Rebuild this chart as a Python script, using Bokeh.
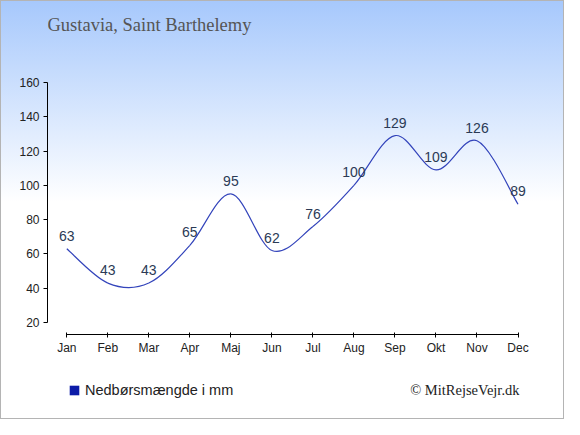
import numpy as np
from bokeh.plotting import figure
from bokeh.models import Range1d, FixedTicker, Label, Legend, LegendItem, Column
from bokeh.core.properties import value
from bokeh.embed import file_html
from bokeh.resources import INLINE

months = ["Jan", "Feb", "Mar", "Apr", "Maj", "Jun", "Jul", "Aug", "Sep", "Okt", "Nov", "Dec"]
precip = [63, 43, 43, 65, 95, 62, 76, 100, 129, 109, 126, 89]
y_ticks = [20, 40, 60, 80, 100, 120, 140, 160]
title_text = "Gustavia, Saint Barthelemy"
series_name = "Nedbørsmængde i mm"
credit = "© MitRejseVejr.dk"

xs = list(range(len(months)))
n = len(xs)

W = 564
H_TOP, H_MAIN, H_BOT = 60, 300, 59
STRIP_L, STRIP_R = 47, 27


def plain(fig):
    fig.background_fill_color = None
    fig.border_fill_color = None
    fig.outline_line_color = None
    fig.grid.visible = False
    return fig


def strip(h):
    return plain(figure(width=W, height=h, output_backend="svg", toolbar_location=None,
                        x_range=Range1d(STRIP_L, W - STRIP_R), y_range=Range1d(h, 0),
                        x_axis_location=None, y_axis_location=None,
                        min_border_left=STRIP_L, min_border_right=STRIP_R,
                        min_border_top=0, min_border_bottom=0))


# ---- title strip ----
t = strip(H_TOP)
t.add_layout(Label(x=47, y=24, text=title_text, text_font="Liberation Serif",
                   text_font_size="18.5px", text_color="#555555", text_baseline="middle",
                   text_align="left"))

# ---- main chart ----
p = plain(figure(width=W, height=H_MAIN, output_backend="svg", toolbar_location=None,
                 x_range=Range1d(-0.4705, 11.475), y_range=Range1d(13.0, 160),
                 min_border_left=47, min_border_right=27, min_border_top=22, min_border_bottom=26))

p.yaxis.ticker = FixedTicker(ticks=y_ticks)
p.yaxis.bounds = (20, 160)
p.yaxis.major_tick_in = 0
p.yaxis.major_tick_out = 4
p.yaxis.minor_tick_in = 0
p.yaxis.minor_tick_out = 0
p.yaxis.major_label_standoff = 4
p.yaxis.axis_line_color = "#000000"
p.yaxis.major_tick_line_color = "#000000"
p.yaxis.major_label_text_font = "Liberation Sans"
p.yaxis.major_label_text_font_size = "12px"
p.yaxis.major_label_text_color = "#222222"

p.xaxis.ticker = FixedTicker(ticks=xs)
p.xaxis.major_label_overrides = {i: m for i, m in enumerate(months)}
p.xaxis.bounds = (0, n - 1)
p.xaxis.major_tick_in = 2
p.xaxis.major_tick_out = 3
p.xaxis.minor_tick_in = 0
p.xaxis.minor_tick_out = 0
p.xaxis.major_label_standoff = 3
p.xaxis.axis_line_color = "#000000"
p.xaxis.major_tick_line_color = "#000000"
p.xaxis.major_label_text_font = "Liberation Sans"
p.xaxis.major_label_text_font_size = "12px"
p.xaxis.major_label_text_color = "#222222"

# smooth line (Catmull-Rom as cubic beziers through the data points)
bx0, by0, bx1, by1, cx0, cy0, cx1, cy1 = [], [], [], [], [], [], [], []
for i in range(n - 1):
    a = max(i - 1, 0)
    d = min(i + 2, n - 1)
    bx0.append(xs[i]); by0.append(precip[i])
    bx1.append(xs[i + 1]); by1.append(precip[i + 1])
    cx0.append(xs[i] + (xs[i + 1] - xs[a]) / 6)
    cy0.append(precip[i] + (precip[i + 1] - precip[a]) / 6)
    cx1.append(xs[i + 1] - (xs[d] - xs[i]) / 6)
    cy1.append(precip[i + 1] - (precip[d] - precip[i]) / 6)
p.bezier(x0=bx0, y0=by0, x1=bx1, y1=by1, cx0=cx0, cy0=cy0, cx1=cx1, cy1=cy1,
         line_color="#3344bb", line_width=1.2)

p.text(x=xs, y=precip, text=[str(v) for v in precip], text_align="center",
       text_baseline="middle", y_offset=-13, text_font=value("Liberation Sans"),
       text_font_size="14px", text_color="#2b3a55")

# ---- legend / credit strip ----
b = strip(H_BOT)
b.add_layout(Label(x=519, y=29, text=credit, text_font="Liberation Serif",
                   text_font_size="14.5px", text_color="#222222", text_baseline="middle",
                   text_align="right"))
# swatch renderer for the legend only (no visible mark)
r_leg = b.quad(left=np.array([np.nan]), right=np.array([np.nan]),
               top=np.array([np.nan]), bottom=np.array([np.nan]),
               fill_color="#0c1ca8", line_color=None)
legend = Legend(items=[LegendItem(label=series_name, renderers=[r_leg])],
                location=(68 - STRIP_L, 21), glyph_width=12, glyph_height=12, label_standoff=5,
                padding=0, margin=0, background_fill_alpha=0, border_line_color=None,
                label_text_font="Liberation Sans", label_text_font_size="14.5px",
                label_text_color="#222222", label_height=12)
b.add_layout(legend)

layout = Column(children=[t, p, b], spacing=0, width=W, height=H_TOP + H_MAIN + H_BOT,
                styles={"background": "linear-gradient(to bottom, #a6c8fc 0px, #ffffff 202px, #ffffff 100%)",
                        "box-shadow": "inset 0 0 0 1px #b4b4b4"})

open("out.html", "w").write(file_html(layout, INLINE))
